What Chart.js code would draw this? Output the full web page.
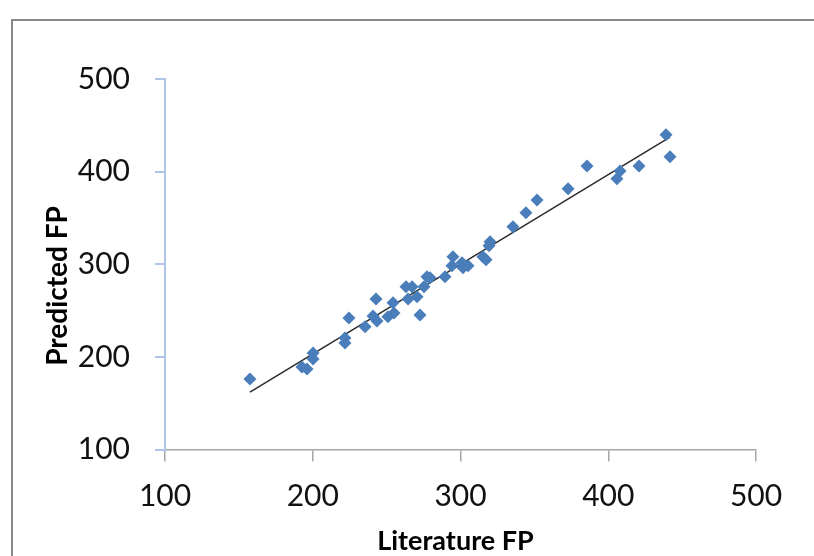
<!DOCTYPE html>
<html>
<head>
<meta charset="utf-8">
<script src="https://cdn.jsdelivr.net/npm/chart.js@4.4.1/dist/chart.umd.min.js"></script>
<style>
  html,body{margin:0;padding:0;background:#fff;}
  #wrap{position:relative;width:814px;height:556px;}
</style>
</head>
<body>
<div id="wrap"><canvas id="c" width="814" height="556"></canvas></div>
<script>
// Literature FP (x) and Predicted FP (y)
const literatureFP = [157.5,192.7,196.1,200.2,200.2,221.8,221.8,224.5,235.4,242.8,240.8,243.5,250.9,254.3,255.0,263.1,267.2,264.5,270.6,272.6,275.3,277.3,279.4,289.5,294.9,294.2,301.0,305.1,301.7,315.2,317.3,320.0,319.3,335.5,344.3,351.8,372.8,385.6,405.9,408.0,420.8,439.1,441.8];
const predictedFP  = [176.2,189.1,186.8,204.3,197.8,220.5,215.1,242.1,232.4,262.6,244.2,238.8,243.2,258.3,247.5,275.6,275.6,262.6,264.8,245.3,275.6,286.4,285.3,286.4,308.0,298.3,301.5,298.3,296.1,308.0,304.8,324.2,319.9,340.4,355.5,369.5,381.4,406.2,392.2,400.8,406.2,439.8,416.0];
const xTicks = [100,200,300,400,500];
const yTicks = [100,200,300,400,500];

const points = literatureFP.map((x,i)=>({x:x, y:predictedFP[i]}));

// linear trendline (least squares) over data range, as Excel does
const n = literatureFP.length;
const mx = literatureFP.reduce((a,b)=>a+b,0)/n;
const my = predictedFP.reduce((a,b)=>a+b,0)/n;
let sxy=0, sxx=0;
for(let i=0;i<n;i++){ sxy += (literatureFP[i]-mx)*(predictedFP[i]-my); sxx += (literatureFP[i]-mx)**2; }
const slope = sxy/sxx, intercept = my - slope*mx;
const xMin = Math.min(...literatureFP), xMax = Math.max(...literatureFP);
const trend = [{x:xMin,y:intercept+slope*xMin},{x:xMax,y:intercept+slope*xMax}];

const FONT = "Lato, 'Liberation Sans', Arial, sans-serif";

const framePlugin = {
  id:'frame',
  beforeDraw(chart){
    const ctx = chart.ctx;
    ctx.save();
    ctx.fillStyle='#fff';
    ctx.fillRect(0,0,chart.width,chart.height);
    ctx.strokeStyle='#888888';
    ctx.lineWidth=2;
    ctx.strokeRect(12,20,900,700);
    ctx.restore();
  }
};

const titlePlugin = {
  id:'axisTitles',
  afterDraw(chart){
    const ctx = chart.ctx;
    const a = chart.chartArea;
    ctx.save();
    ctx.fillStyle='#000';
    ctx.font = "bold 27px " + FONT;
    ctx.textAlign='center';
    ctx.textBaseline='middle';
    ctx.fillText('Literature FP', (a.left+a.right)/2 - 5, 541);
    ctx.translate(58, 286);
    ctx.rotate(-Math.PI/2);
    ctx.font = "bold 28px " + FONT;
    ctx.fillText('Predicted FP', 0, 0);
    ctx.restore();
  }
};

new Chart(document.getElementById('c'), {
  type:'scatter',
  data:{
    datasets:[
      {
        label:'Predicted FP',
        data:points,
        pointStyle:'rectRot',
        pointRadius:6.5,
        pointHoverRadius:6.5,
        backgroundColor:'#4A7EBB',
        borderColor:'#4A7EBB',
        borderWidth:0
      },
      {
        label:'Linear',
        type:'line',
        data:trend,
        borderColor:'#2b2b2b',
        borderWidth:1.5,
        pointRadius:0,
        fill:false,
        tension:0
      }
    ]
  },
  options:{
    responsive:false,
    animation:false,
    events:[],
    layout:{padding:{left:0,top:79,right:58,bottom:0}},
    plugins:{legend:{display:false}, tooltip:{enabled:false}},
    scales:{
      x:{
        type:'linear',
        min:100, max:500,
        afterBuildTicks(s){ s.ticks = xTicks.map(v=>({value:v})); },
        afterFit(s){ s.height = 106.5; },
        border:{display:true,color:'#A6A6A6',width:1.5},
        grid:{display:true,drawOnChartArea:false,drawTicks:true,tickLength:12,color:'#A6A6A6',lineWidth:1.5},
        ticks:{color:'#111',padding:17,font:{family:FONT,size:30},maxRotation:0}
      },
      y:{
        type:'linear',
        min:100, max:500,
        afterBuildTicks(s){ s.ticks = yTicks.map(v=>({value:v})); },
        afterFit(s){ s.width = 165; },
        border:{display:true,color:'#AFC4E8',width:2},
        grid:{display:true,drawOnChartArea:false,drawTicks:true,tickLength:10,color:'#AFC4E8',lineWidth:2},
        ticks:{color:'#111',padding:25,font:{family:FONT,size:30}}
      }
    }
  },
  plugins:[framePlugin,titlePlugin]
});
</script>
</body>
</html>
